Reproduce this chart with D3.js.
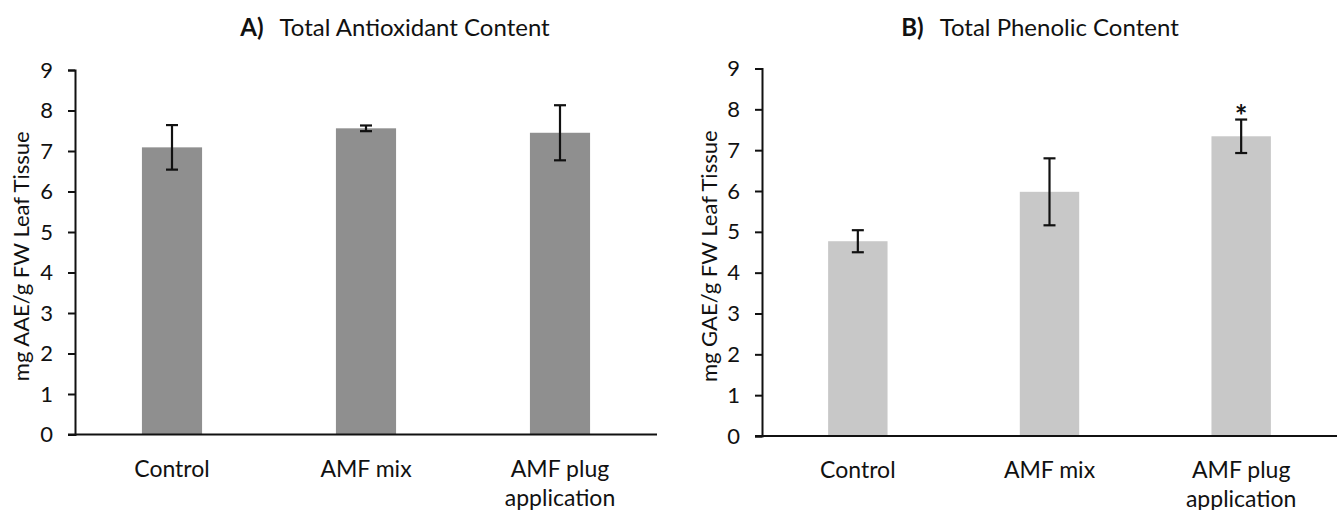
<!DOCTYPE html>
<html>
<head>
<meta charset="utf-8">
<script src="https://cdn.jsdelivr.net/npm/d3@7"></script>
<style>
  html, body { margin: 0; padding: 0; background: #fff; }
  svg { display: block; font-family: Lato, "Open Sans", sans-serif; }
</style>
</head>
<body>
<svg id="chart" width="1344" height="510"></svg>
<script>
// Treatments shared by both panels
const categories = ["Control", "AMF mix", "AMF plug application"];
const tickValues = [0, 1, 2, 3, 4, 5, 6, 7, 8, 9];

// A) Total antioxidant content (mg AAE/g FW)
const antioxidantMeans = [7.09, 7.56, 7.45];
const antioxidantErrors = [0.55, 0.07, 0.68];

// B) Total phenolic content (mg GAE/g FW)
const phenolicMeans = [4.77, 5.98, 7.34];
const phenolicErrors = [0.27, 0.82, 0.41];
const phenolicSignificance = ["", "", "*"];

const svg = d3.select("#chart");

function drawPanel(opts) {
  const g = svg.append("g");

  const x = d3.scaleBand()
    .domain(categories)
    .range([opts.left, opts.right])
    .paddingInner(0.69)
    .paddingOuter(0.345);

  const y = d3.scaleLinear()
    .domain([0, 9])
    .range([opts.bottom, opts.top]);

  // bars
  g.selectAll("rect.bar")
    .data(opts.means)
    .join("rect")
    .attr("class", "bar")
    .attr("x", (d, i) => x(categories[i]))
    .attr("width", x.bandwidth())
    .attr("y", d => y(d))
    .attr("height", d => y(0) - y(d))
    .attr("fill", opts.color);

  // error bars
  const cap = 6;
  const eb = g.selectAll("g.err")
    .data(opts.means.map((m, i) => ({ m, e: opts.errors[i], c: categories[i] })))
    .join("g")
    .attr("class", "err")
    .attr("stroke", "#111")
    .attr("stroke-width", 2.2);
  eb.append("line")
    .attr("x1", d => x(d.c) + x.bandwidth() / 2)
    .attr("x2", d => x(d.c) + x.bandwidth() / 2)
    .attr("y1", d => y(d.m - d.e))
    .attr("y2", d => y(d.m + d.e));
  eb.append("line")
    .attr("x1", d => x(d.c) + x.bandwidth() / 2 - cap)
    .attr("x2", d => x(d.c) + x.bandwidth() / 2 + cap)
    .attr("y1", d => y(d.m + d.e))
    .attr("y2", d => y(d.m + d.e));
  eb.append("line")
    .attr("x1", d => x(d.c) + x.bandwidth() / 2 - cap)
    .attr("x2", d => x(d.c) + x.bandwidth() / 2 + cap)
    .attr("y1", d => y(d.m - d.e))
    .attr("y2", d => y(d.m - d.e));

  // significance markers
  if (opts.marks) {
    g.selectAll("text.sig")
      .data(opts.marks.map((s, i) => ({ s, top: opts.means[i] + opts.errors[i], c: categories[i] })))
      .join("text")
      .attr("class", "sig")
      .attr("x", d => x(d.c) + x.bandwidth() / 2)
      .attr("y", d => y(d.top) + 7)
      .attr("text-anchor", "middle")
      .attr("font-size", 30)
      .attr("font-weight", "bold")
      .attr("fill", "#111")
      .text(d => d.s);
  }

  // y axis
  const yAxis = d3.axisLeft(y)
    .tickValues(tickValues)
    .tickFormat(d3.format("d"))
    .tickSize(7)
    .tickPadding(15);
  const ya = g.append("g")
    .attr("transform", `translate(${opts.left},0)`)
    .call(yAxis);
  ya.select(".domain").attr("stroke", "#111").attr("stroke-width", 2);
  ya.selectAll(".tick line").attr("stroke", "#111").attr("stroke-width", 2);
  ya.selectAll(".tick text")
    .attr("font-family", "Lato, sans-serif")
    .attr("font-size", 22)
    .attr("fill", "#111");

  // x axis baseline
  g.append("line")
    .attr("x1", opts.left - 7)
    .attr("x2", opts.right)
    .attr("y1", y(0))
    .attr("y2", y(0))
    .attr("stroke", "#111")
    .attr("stroke-width", 2);

  // category labels (wrapped onto two lines when long)
  const labelLines = {
    "Control": ["Control"],
    "AMF mix": ["AMF mix"],
    "AMF plug application": ["AMF plug", "application"]
  };
  g.selectAll("text.cat")
    .data(categories)
    .join("text")
    .attr("class", "cat")
    .attr("text-anchor", "middle")
    .attr("font-size", 23)
    .attr("fill", "#111")
    .each(function (c) {
      const t = d3.select(this);
      labelLines[c].forEach((line, k) => {
        t.append("tspan")
          .attr("x", x(c) + x.bandwidth() / 2)
          .attr("y", y(0) + 42 + k * 29)
          .text(line);
      });
    });

  // y axis title
  g.append("text")
    .attr("transform", `translate(${opts.titleX},${(opts.top + opts.bottom) / 2 + 4}) rotate(-90)`)
    .attr("text-anchor", "middle")
    .attr("font-size", 22)
    .attr("fill", "#111")
    .text(opts.yTitle);

  // panel title
  const title = g.append("text")
    .attr("x", opts.titleCenter)
    .attr("y", 36)
    .attr("text-anchor", "middle")
    .attr("font-size", 24)
    .attr("fill", "#111");
  title.append("tspan").attr("font-weight", "bold").text(opts.letter);
  title.append("tspan").attr("dx", 16).text(opts.title);
}

drawPanel({
  left: 75, right: 657, top: 70, bottom: 434.5,
  means: antioxidantMeans, errors: antioxidantErrors,
  color: "#8f8f8f",
  yTitle: "mg AAE/g FW Leaf Tissue", titleX: 29,
  letter: "A)", title: "Total Antioxidant Content", titleCenter: 395
});

drawPanel({
  left: 762, right: 1337, top: 68.5, bottom: 436,
  means: phenolicMeans, errors: phenolicErrors, marks: phenolicSignificance,
  color: "#c8c8c8",
  yTitle: "mg GAE/g FW Leaf Tissue", titleX: 717,
  letter: "B)", title: "Total Phenolic Content", titleCenter: 1040
});
</script>
</body>
</html>
